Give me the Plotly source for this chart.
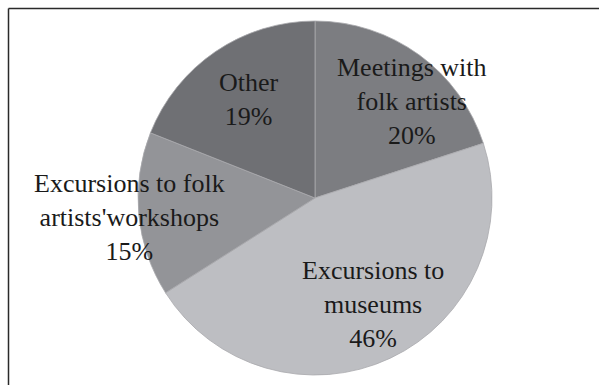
import plotly.graph_objects as go

labels = ["Meetings with<br>folk artists", "Excursions to<br>museums",
          "Excursions to folk<br>artists'workshops", "Other"]
values = [20, 46, 15, 19]
colors = ["#7c7d81", "#bdbec2", "#939498", "#6f7074"]

W, H = 599, 385
# label block centres in pixels (layout styling)
label_pos = [(412, 102), (373, 304), (129, 217), (249, 100)]

FONT = "Liberation Serif"

fig = go.Figure(go.Pie(
    labels=labels, values=values, sort=False, direction="clockwise", rotation=0,
    marker=dict(colors=colors, line=dict(color="#a9aaad", width=0.8)),
    textinfo="none", hoverinfo="label+percent", showlegend=False,
    domain=dict(x=[(315 - 177) / W, (315 + 177) / W], y=[1 - 375 / H, 1 - 21 / H]),
))

total = sum(values)
for lab, v, (px, py) in zip(labels, values, label_pos):
    fig.add_annotation(
        x=px / W, y=1 - py / H, xref="paper", yref="paper",
        text=f"{lab}<br>{round(100 * v / total)}%", showarrow=False,
        font=dict(family=FONT, size=26, color="#1a1a1a"),
        align="center", xanchor="center", yanchor="middle",
    )

# frame (top and left edges visible in the crop)
fig.add_shape(type="line", xref="paper", yref="paper",
              x0=8.5 / W, y0=1 - 8.5 / H, x1=1.02, y1=1 - 8.5 / H,
              line=dict(color="#2a2a2a", width=1.5))
fig.add_shape(type="line", xref="paper", yref="paper",
              x0=8.5 / W, y0=1 - 8.5 / H, x1=8.5 / W, y1=-0.02,
              line=dict(color="#2a2a2a", width=1.5))

fig.update_layout(width=W, height=H, margin=dict(l=0, r=0, t=0, b=0),
                  font=dict(family=FONT),
                  paper_bgcolor="white", plot_bgcolor="white")
fig.write_html("out.html")
